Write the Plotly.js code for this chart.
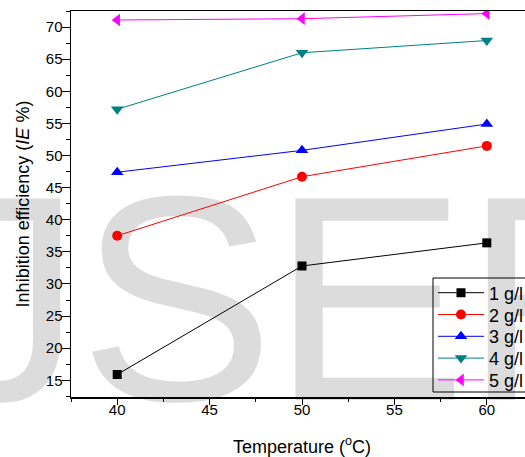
<!DOCTYPE html>
<html>
<head>
<meta charset="utf-8">
<script src="https://cdn.plot.ly/plotly-3.0.1.min.js"></script>
<style>
  html, body { margin: 0; padding: 0; background: #fff; overflow: hidden; width: 525px; height: 457px; }
  #wrap { position: relative; width: 525px; height: 457px; overflow: hidden; }
  #mark { position: absolute; left: 0; top: 0; }
  #chart { position: absolute; left: 0; top: 0; width: 540px; height: 457px; }
</style>
</head>
<body>
<div id="wrap">
  <svg id="mark" width="525" height="457">
    <text x="-143" y="400" font-family="Liberation Sans, Arial, sans-serif" font-size="293" letter-spacing="-3" fill="#dcdcdc">IJSER</text>
  </svg>
  <div id="chart"></div>
</div>
<script>
// Temperature (°C)
const temperature = [40, 50, 60];

// Inhibition efficiency (IE %) per inhibitor concentration
const ie1 = [15.9, 32.8, 36.4];
const ie2 = [37.5, 46.7, 51.5];
const ie3 = [47.4, 50.8, 54.9];
const ie4 = [57.2, 66.0, 67.9];
const ie5 = [71.1, 71.3, 72.1];

const seriesNames = ['1 g/l', '2 g/l', '3 g/l', '4 g/l', '5 g/l'];
const seriesValues = [ie1, ie2, ie3, ie4, ie5];
const seriesColors = ['#000000', '#ff0000', '#0000ff', '#008080', '#ff00ff'];
const seriesSymbols = ['square', 'circle', 'triangle-up', 'triangle-down', 'triangle-left'];
const seriesSizes = [9, 10, 11, 11, 11];

const xRange = [37.5, 62.5];
const yRange = [12.4, 72.5];

// plot area in pixels, used to place the legend rows
const plotLeft = 71, plotWidth = 462, plotBottom = 397, plotHeight = 386;
const px2x = p => (p - plotLeft) / plotWidth;
const px2y = p => (plotBottom - p) / plotHeight;

const legendLeft = 433, legendTop = 278, legendBottom = 392;
const rowPitch = 21.8;
const firstRow = 293;

const font = { family: 'Liberation Sans, Arial, sans-serif', color: '#000' };
const tickFont = { family: font.family, size: 15, color: '#000' };
const titleFont = { family: font.family, size: 18, color: '#000' };

// each series gets its own legend row so the row pitch can be set freely
const traces = seriesNames.map((name, i) => ({
  type: 'scatter',
  mode: 'lines+markers',
  name: name,
  x: temperature,
  y: seriesValues[i],
  line: { color: seriesColors[i], width: 1 },
  marker: { symbol: seriesSymbols[i], size: seriesSizes[i], color: seriesColors[i] },
  cliponaxis: true,
  legend: i === 0 ? 'legend' : 'legend' + (i + 1)
}));

const hiddenTick = 'rgba(0,0,0,0)';

const layout = {
  width: 540,
  height: 457,
  margin: { l: plotLeft, r: 540 - plotLeft - plotWidth, t: 11, b: 457 - plotBottom },
  paper_bgcolor: 'rgba(0,0,0,0)',
  plot_bgcolor: 'rgba(0,0,0,0)',
  font: font,
  showlegend: true,
  // labelled axes: short invisible ticks keep the labels close to the line
  xaxis: {
    range: xRange, tick0: 40, dtick: 5,
    ticks: 'outside', ticklen: 1, tickcolor: hiddenTick,
    ticklabelstandoff: -3,
    showline: true, linecolor: '#000', linewidth: 1.5, mirror: true,
    showgrid: false, zeroline: false,
    tickfont: tickFont,
    automargin: false,
    title: { text: 'Temperature (<sup>o</sup>C)', font: titleFont, standoff: 25 }
  },
  yaxis: {
    range: yRange, tick0: 0, dtick: 5,
    ticks: 'outside', ticklen: 4, tickcolor: hiddenTick,
    showline: true, linecolor: '#000', linewidth: 1.5, mirror: true,
    showgrid: false, zeroline: false,
    tickfont: tickFont,
    automargin: false,
    title: { text: 'Inhibition efficiency (<i>IE</i> %)', font: titleFont, standoff: 11 }
  },
  // overlay axes that draw the visible major and minor ticks
  xaxis2: {
    overlaying: 'x', anchor: 'y', side: 'bottom',
    range: xRange, tick0: 40, dtick: 5,
    ticks: 'outside', ticklen: 7, tickwidth: 1, tickcolor: '#000',
    minor: { dtick: 2.5, tick0: 37.5, ticks: 'outside', ticklen: 4, tickcolor: '#000', showgrid: false },
    showticklabels: false, showline: false, showgrid: false, zeroline: false
  },
  yaxis2: {
    overlaying: 'y', anchor: 'x', side: 'left',
    range: yRange, tick0: 0, dtick: 5,
    ticks: 'outside', ticklen: 8, tickwidth: 1, tickcolor: '#000',
    minor: { dtick: 2.5, tick0: 0, ticks: 'outside', ticklen: 4, tickcolor: '#000', showgrid: false },
    showticklabels: false, showline: false, showgrid: false, zeroline: false
  },
  shapes: [{
    type: 'rect', xref: 'paper', yref: 'paper',
    x0: px2x(legendLeft), x1: px2x(560),
    y0: px2y(legendBottom), y1: px2y(legendTop),
    line: { color: '#000', width: 1 }, fillcolor: 'rgba(0,0,0,0)'
  }]
};

seriesNames.forEach((name, i) => {
  const key = i === 0 ? 'legend' : 'legend' + (i + 1);
  layout[key] = {
    x: px2x(legendLeft), y: px2y(firstRow + i * rowPitch),
    xanchor: 'left', yanchor: 'middle',
    bgcolor: 'rgba(0,0,0,0)', borderwidth: 0,
    font: { family: font.family, size: 18, color: '#000' },
    itemwidth: 46
  };
});

// an empty trace on the overlay axes so they are drawn
traces.push({
  type: 'scatter', mode: 'markers', x: [], y: [],
  xaxis: 'x2', yaxis: 'y2', showlegend: false, hoverinfo: 'skip'
});

Plotly.newPlot('chart', traces, layout, { displayModeBar: false, staticPlot: true });
</script>
</body>
</html>
